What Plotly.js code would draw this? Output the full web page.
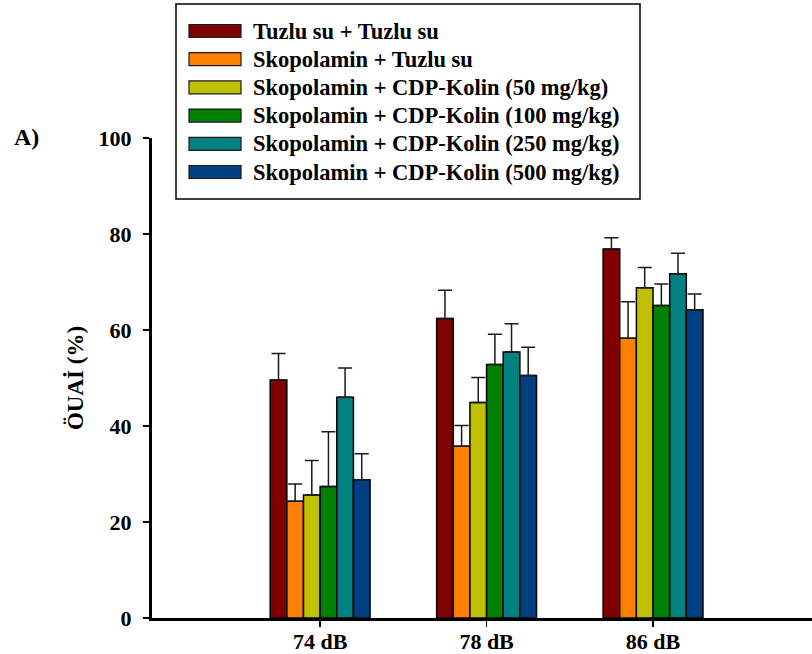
<!DOCTYPE html>
<html>
<head>
<meta charset="utf-8">
<script src="https://cdn.plot.ly/plotly-3.0.1.min.js"></script>
<style>
  html, body { margin: 0; padding: 0; background: #ffffff; }
  #chart { width: 812px; height: 654px; }
</style>
</head>
<body>
<div id="chart"></div>
<script>
// Sound levels on the x axis
const categories = ['74 dB', '78 dB', '86 dB'];

// Treatment groups (legend order)
const seriesNames = [
  'Tuzlu su + Tuzlu su',
  'Skopolamin + Tuzlu su',
  'Skopolamin + CDP-Kolin (50 mg/kg)',
  'Skopolamin + CDP-Kolin (100 mg/kg)',
  'Skopolamin + CDP-Kolin (250 mg/kg)',
  'Skopolamin + CDP-Kolin (500 mg/kg)'
];
const seriesColors = ['#800000', '#ff8000', '#c0c000', '#008000', '#008080', '#004080'];

// Mean PPI (%) per sound level
const tuzluTuzlu   = [49.6, 62.4, 76.9];
const skopTuzlu    = [24.3, 35.8, 58.3];
const cdp50        = [25.6, 44.9, 68.8];
const cdp100       = [27.4, 52.8, 65.1];
const cdp250       = [46.0, 55.4, 71.7];
const cdp500       = [28.8, 50.5, 64.2];

// Upper error (SEM) per sound level
const tuzluTuzluErr = [5.5, 5.9, 2.3];
const skopTuzluErr  = [3.6, 4.3, 7.6];
const cdp50Err      = [7.2, 5.2, 4.2];
const cdp100Err     = [11.4, 6.3, 4.5];
const cdp250Err     = [6.1, 5.9, 4.3];
const cdp500Err     = [5.4, 5.9, 3.3];

const seriesValues = [tuzluTuzlu, skopTuzlu, cdp50, cdp100, cdp250, cdp500];
const seriesErrors = [tuzluTuzluErr, skopTuzluErr, cdp50Err, cdp100Err, cdp250Err, cdp500Err];

const FONT = 'Liberation Serif, Times New Roman, Times, serif';

// Plot-area geometry (pixels)
const W = 812, H = 654;
const M = { l: 152, r: 0, t: 138, b: 36 };
const plotW = W - M.l - M.r;
const plotH = H - M.t - M.b;
const px2paperX = px => (px - M.l) / plotW;
const px2paperY = py => (H - M.b - py) / plotH;

const traces = seriesNames.map((name, i) => ({
  type: 'bar',
  name: name,
  x: categories,
  y: seriesValues[i],
  marker: { color: seriesColors[i], line: { color: '#000000', width: 1.5 } },
  error_y: {
    type: 'data',
    symmetric: false,
    array: seriesErrors[i],
    arrayminus: seriesValues[i].map(() => 0),
    color: '#1a1a1a',
    thickness: 1.5,
    width: 7
  },
  showlegend: false,
  hoverinfo: 'x+y+name'
}));

// Legend drawn as a framed box with wide colour swatches
const legendBox = { x0: 176, y0: 4, x1: 640, y1: 199 };
const rowY0 = 31, rowStep = 28.2;
const shapes = [{
  type: 'rect', xref: 'paper', yref: 'paper',
  x0: px2paperX(legendBox.x0), x1: px2paperX(legendBox.x1),
  y0: px2paperY(legendBox.y0), y1: px2paperY(legendBox.y1),
  line: { color: '#000000', width: 1.5 }, fillcolor: '#ffffff', layer: 'above'
}];
const annotations = [];
seriesNames.forEach((name, i) => {
  const cy = rowY0 + i * rowStep;
  shapes.push({
    type: 'rect', xref: 'paper', yref: 'paper',
    x0: px2paperX(189), x1: px2paperX(241),
    y0: px2paperY(cy - 6.5), y1: px2paperY(cy + 6.5),
    line: { color: '#1a1a1a', width: 1.2 }, fillcolor: seriesColors[i], layer: 'above'
  });
  annotations.push({
    xref: 'paper', yref: 'paper',
    x: px2paperX(251), y: px2paperY(cy),
    xanchor: 'left', yanchor: 'middle', showarrow: false,
    text: name,
    font: { family: FONT, size: 22.5, color: '#000000', weight: 'bold' }
  });
});
// Panel letter
annotations.push({
  xref: 'paper', yref: 'paper',
  x: px2paperX(12), y: px2paperY(137),
  xanchor: 'left', yanchor: 'middle', showarrow: false,
  text: 'A)',
  font: { family: FONT, size: 24, color: '#000000', weight: 'bold' }
});

const layout = {
  width: W, height: H,
  margin: M,
  paper_bgcolor: '#ffffff',
  plot_bgcolor: '#ffffff',
  barmode: 'group',
  bargap: 0.4,
  bargroupgap: 0,
  font: { family: FONT, color: '#000000' },
  xaxis: {
    type: 'category',
    range: [-1.01, 2.955],
    showline: true, linecolor: '#000000', linewidth: 3,
    ticks: 'outside', ticklen: 6, tickwidth: 1.5, tickcolor: '#000000',
    ticklabelstandoff: -4,
    tickfont: { family: FONT, size: 22, color: '#000000', weight: 'bold' },
    showgrid: false, zeroline: false, fixedrange: true
  },
  yaxis: {
    range: [0, 100],
    tick0: 0, dtick: 20,
    showline: true, linecolor: '#000000', linewidth: 3,
    ticks: 'outside', ticklen: 6, tickwidth: 1.5, tickcolor: '#000000',
    ticklabelstandoff: 7,
    tickfont: { family: FONT, size: 22, color: '#000000', weight: 'bold' },
    title: {
      text: 'ÖUAİ (%)',
      standoff: 9,
      font: { family: FONT, size: 23, color: '#000000', weight: 'bold' }
    },
    showgrid: false, zeroline: false, fixedrange: true
  },
  shapes: shapes,
  annotations: annotations
};

Plotly.newPlot('chart', traces, layout, { displayModeBar: false, staticPlot: true });
</script>
</body>
</html>
